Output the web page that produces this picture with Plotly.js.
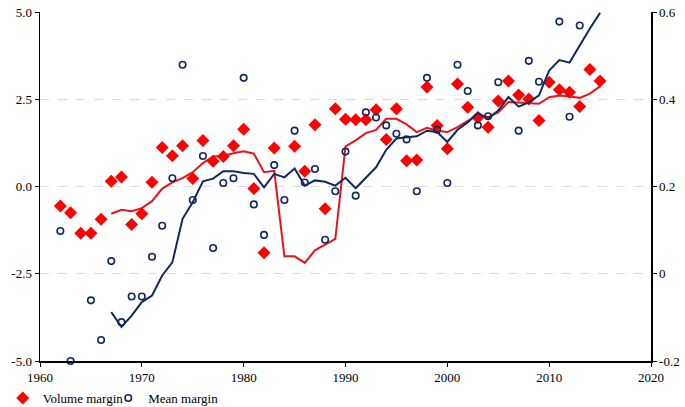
<!DOCTYPE html>
<html>
<head>
<meta charset="utf-8">
<script src="https://cdn.plot.ly/plotly-3.0.1.min.js"></script>
<style>html,body{margin:0;padding:0;background:#fff;}#chart{width:685px;height:407px;}</style>
</head>
<body>
<div id="chart"></div>
<script>
const years = [1962,1963,1964,1965,1966,1967,1968,1969,1970,1971,1972,1973,1974,1975,1976,1977,1978,1979,1980,1981,1982,1983,1984,1985,1986,1987,1988,1989,1990,1991,1992,1993,1994,1995,1996,1997,1998,1999,2000,2001,2002,2003,2004,2005,2006,2007,2008,2009,2010,2011,2012,2013,2014,2015];
const volumeMargin = [-0.56,-0.75,-1.34,-1.34,-0.94,0.15,0.27,-1.09,-0.78,0.12,1.12,0.88,1.17,0.23,1.32,0.72,0.86,1.17,1.64,-0.06,-1.90,1.10,null,1.15,0.44,1.77,-0.64,2.23,1.93,1.91,1.91,2.20,1.35,2.23,0.74,0.76,2.85,1.75,1.08,2.94,2.27,1.98,1.70,2.45,3.02,2.62,2.51,1.89,2.99,2.77,2.70,2.29,3.35,3.02];
const meanMargin = [0.098,-0.200,null,-0.061,-0.152,0.029,-0.111,-0.052,-0.052,0.039,0.110,0.219,0.479,0.169,0.270,0.059,0.208,0.219,0.449,0.159,0.089,0.249,0.169,0.328,0.209,0.240,0.078,0.189,0.280,0.179,0.370,0.358,0.340,0.321,0.308,0.189,0.449,0.330,0.208,0.479,0.419,0.340,0.361,0.439,null,0.328,0.488,0.440,null,0.578,0.360,0.569,null,null];
const trendYears = [1967,1968,1969,1970,1971,1972,1973,1974,1975,1976,1977,1978,1979,1980,1981,1982,1983,1984,1985,1986,1987,1988,1989,1990,1991,1992,1993,1994,1995,1996,1997,1998,1999,2000,2001,2002,2003,2004,2005,2006,2007,2008,2009,2010,2011,2012,2013,2014,2015];
const volumeTrend = [-0.78,-0.67,-0.71,-0.62,-0.42,-0.06,0.12,0.24,0.41,0.67,0.86,0.88,0.95,1.01,0.94,0.41,0.45,-2.00,-2.00,-2.19,-1.83,-1.66,-1.50,1.15,1.32,1.53,1.62,1.94,1.94,1.78,1.56,1.68,1.60,1.56,1.70,1.88,2.04,1.99,2.12,2.42,2.40,2.37,2.37,2.56,2.61,2.58,2.54,2.66,2.87];
const meanTrend = [-0.088,-0.122,-0.096,-0.065,-0.050,-0.004,0.026,0.126,0.164,0.212,0.218,0.235,0.235,0.231,0.229,0.198,0.229,0.221,0.241,0.202,0.214,0.211,0.202,0.220,0.196,0.219,0.244,0.284,0.310,0.313,0.315,0.328,0.325,0.302,0.330,0.347,0.369,0.355,0.374,0.405,0.383,0.393,0.409,0.466,0.490,0.484,0.524,0.562,0.598];
const leftTicks = [-5,-2.5,0,2.5,5];
const leftTickText = ['-5.0','-2.5','0.0','2.5','5.0'];
const rightTicks = [-0.2,0,0.2,0.4,0.6];
const rightTickText = ['-0.2','0','0.2','0.4','0.6'];
const xTicks = [1960,1970,1980,1990,2000,2010,2020];

const serif = 'Liberation Serif, Times New Roman, serif';
const navy = '#12285e';
const red = '#ff0000';

const traces = [
  {x: trendYears, y: volumeTrend, type: 'scatter', mode: 'lines', line: {color: '#e8141c', width: 2}, showlegend: false, hoverinfo: 'skip'},
  {x: trendYears, y: meanTrend, type: 'scatter', mode: 'lines', yaxis: 'y2', line: {color: navy, width: 2}, showlegend: false, hoverinfo: 'skip'},
  {x: years, y: volumeMargin, type: 'scatter', mode: 'markers', name: 'Volume margin', legend: 'legend', marker: {symbol: 'diamond', size: 10, color: red}, cliponaxis: false},
  {x: years, y: meanMargin, type: 'scatter', mode: 'markers', name: 'Mean margin', legend: 'legend2', yaxis: 'y2', marker: {symbol: 'circle-open', size: 6.5, color: navy, line: {width: 1.6, color: navy}}, cliponaxis: false}
];

const legendBase = {orientation: 'h', xref: 'container', yref: 'container', xanchor: 'left', y: 0.022, yanchor: 'middle', font: {family: serif, size: 13, color: '#000'}, itemwidth: 30, bgcolor: 'rgba(0,0,0,0)'};

const layout = {
  width: 685, height: 407,
  margin: {l: 40, r: 34, t: 12, b: 46},
  paper_bgcolor: '#fff', plot_bgcolor: '#fff',
  font: {family: serif, size: 13, color: '#000'},
  showlegend: true,
  legend: Object.assign({}, legendBase, {x: 0.004}),
  legend2: Object.assign({}, legendBase, {x: 0.158}),
  xaxis: {range: [1960, 2020], tickvals: xTicks, ticktext: xTicks.map(String), showgrid: false, zeroline: false, showline: true, linecolor: '#000', linewidth: 1.5, ticks: 'outside', ticklen: 4, tickcolor: '#000', tickfont: {family: serif, size: 13}},
  yaxis: {range: [-5, 5], tickvals: leftTicks, ticktext: leftTickText, showgrid: true, gridcolor: '#dcdcdc', griddash: 'dash', gridwidth: 1, zeroline: false, showline: true, linecolor: '#000', linewidth: 1.5, ticks: 'outside', ticklen: 4, tickcolor: '#000', tickfont: {family: serif, size: 13}},
  yaxis2: {range: [-0.2, 0.6], overlaying: 'y', side: 'right', tickvals: rightTicks, ticktext: rightTickText, showgrid: false, zeroline: false, showline: true, linecolor: '#000', linewidth: 1.5, ticks: 'outside', ticklen: 4, tickcolor: '#000', tickfont: {family: serif, size: 13}}
};

Plotly.newPlot('chart', traces, layout, {displayModeBar: false, staticPlot: true});
</script>
</body>
</html>
